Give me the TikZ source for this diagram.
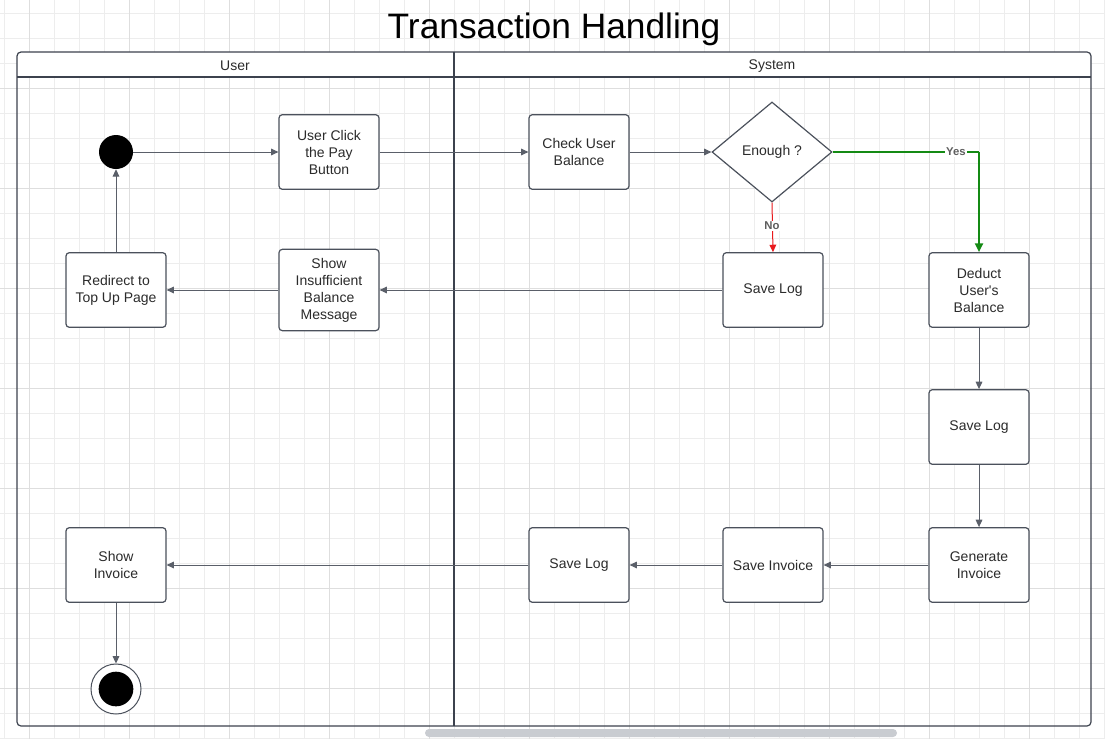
\documentclass[tikz,border=0pt]{standalone}
\usepackage{fontspec}
\setmainfont{Liberation Sans}[Ligatures=TeXOff]
\usetikzlibrary{arrows.meta,shapes.geometric}
\definecolor{edgec}{HTML}{5A5F69}
\definecolor{nodeb}{HTML}{4B515C}
\definecolor{poolc}{HTML}{3C424E}
\definecolor{gridmin}{HTML}{EDEDED}
\definecolor{gridmaj}{HTML}{DEDEDE}
\definecolor{txtc}{HTML}{2B2B2B}
\definecolor{yesg}{HTML}{148A14}
\definecolor{nored}{HTML}{E8191C}
\definecolor{lblc}{HTML}{5E5E5E}
\definecolor{scrollc}{HTML}{C9CCD1}
\begin{document}
\begin{tikzpicture}[x=0.75pt,y=-0.75pt,
  box/.style={draw=nodeb,fill=white,line width=0.9pt,rounded corners=2.5pt,
    minimum width=75pt,minimum height=56pt,inner sep=0pt,align=center,
    text=txtc,font=\fontsize{10.5}{12.75}\selectfont},
  dec/.style={draw=nodeb,fill=white,line width=0.9pt,diamond,aspect=1.2,
    minimum width=90pt,minimum height=75pt,inner sep=0pt,text=txtc,
    font=\fontsize{10.5}{12.75}\selectfont},
  startc/.style={circle,fill=black,minimum size=25.5pt,inner sep=0pt},
  flow/.style={draw=edgec,line width=0.75pt,-{Triangle[length=5.5pt,width=5pt]}},
  lbl/.style={fill=white,inner sep=0.6pt,text=lblc,font=\fontsize{8.5}{10}\selectfont\bfseries},
  hdr/.style={text=txtc,font=\fontsize{10.5}{12.75}\selectfont}]
\useasboundingbox (0,0) rectangle (1105,739);
\fill[white] (0,0) rectangle (1105,739);
% grid
\foreach \x in {4,29,...,1104} \draw[gridmin,line width=0.75pt] (\x,0) -- (\x,739);
\foreach \y in {13,38,...,738} \draw[gridmin,line width=0.75pt] (0,\y) -- (1105,\y);
\foreach \x in {29,129,...,1029} \draw[gridmaj,line width=0.75pt] (\x,0) -- (\x,739);
\foreach \y in {88,188,...,688} \draw[gridmaj,line width=0.75pt] (0,\y) -- (1105,\y);
% scrollbar
\fill[scrollc,rounded corners=3pt] (425,729) rectangle (897,737);
% title
\node[text=black,font=\fontsize{26.5}{30}\selectfont] (title) at (554,29) {Transaction Handling};
% pool
\fill[white,rounded corners=3pt] (17,52) rectangle (1091,77);
\draw[poolc,line width=0.9pt,rounded corners=3pt] (17,52) rectangle (1091,726);
\draw[poolc,line width=0.9pt] (17,77) -- (1091,77);
\draw[poolc,line width=1.5pt] (454,52) -- (454,726);
\node[hdr] (huser) at (235,66) {User};
\node[hdr] (hsys) at (772,66) {System};
% nodes
\node[startc] (start) at (116,152) {};
\node[box] (click) at (329,152) {User Click\\the Pay\\Button};
\node[box] (check) at (579,152) {Check User\\Balance};
\node[dec] (enough) at (772,152) {Enough ?};
\node[box] (log1) at (773,290) {Save Log};
\node[box] (deduct) at (979,290) {Deduct\\User's\\Balance};
\node[box,minimum height=61pt] (insuf) at (329,290) {Show\\Insufficient\\Balance\\Message};
\node[box] (redir) at (116,290) {Redirect to\\Top Up Page};
\node[box] (log2) at (979,427) {Save Log};
\node[box] (geninv) at (979,565) {Generate\\Invoice};
\node[box] (saveinv) at (773,565) {Save Invoice};
\node[box] (log3) at (579,565) {Save Log};
\node[box] (showinv) at (116,565) {Show\\Invoice};
\node[circle,draw=nodeb,line width=0.75pt,fill=white,minimum size=37.5pt,inner sep=0pt] (endc) at (116,689) {};
\node[circle,fill=black,minimum size=26pt,inner sep=0pt] (endin) at (116,689) {};
% edges
\draw[flow] (start) -- (click);
\draw[flow] (click) -- (check);
\draw[flow] (check) -- (enough.west);
\draw[draw=yesg,line width=0.9pt] (enough.east) -- (979,152) coordinate (yesbend);
\draw[draw=yesg,line width=1.4pt,-{Triangle[length=6.5pt,width=6pt]}] (yesbend) -- (deduct.north);
\node[lbl] (yes) at (956,152) {Yes};
\draw[flow,draw=nored] (enough.south) -- (log1.north);
\node[lbl] (no) at (772,226) {No};
\draw[flow] (log1) -- (insuf);
\draw[flow] (insuf) -- (redir);
\draw[flow] (redir) -- (start);
\draw[flow] (deduct) -- (log2);
\draw[flow] (log2) -- (geninv);
\draw[flow] (geninv) -- (saveinv);
\draw[flow] (saveinv) -- (log3);
\draw[flow] (log3) -- (showinv);
\draw[flow] (showinv) -- (endc);
\end{tikzpicture}
\end{document}
